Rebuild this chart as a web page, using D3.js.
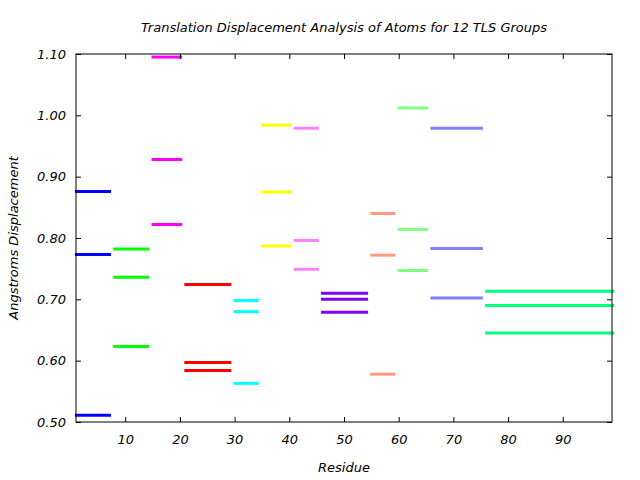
<!DOCTYPE html>
<html>
<head>
<meta charset="utf-8">
<script src="https://cdn.jsdelivr.net/npm/d3@7"></script>
<style>
  body { margin: 0; background: #fff; }
  text { font-family: "DejaVu Sans", sans-serif; font-style: italic; fill: #000; }
</style>
</head>
<body>
<svg width="640" height="480"></svg>
<script>
// residue range of each TLS group
const groupStart = [1, 8, 15, 21, 30, 35, 41, 46, 55, 60, 66, 76];
const groupEnd   = [7, 14, 20, 29, 34, 40, 45, 54, 59, 65, 75, 99];
const groupColors = ['#0000ff', '#00ff00', '#ff00ff', '#ff0000', '#00ffff', '#ffff00',
                     '#ff80ff', '#8000ff', '#ff9980', '#80ff80', '#8080ff', '#00ff80'];
// displacement values (3 per group)
const displacements = [
  [0.876, 0.773, 0.511],
  [0.782, 0.736, 0.623],
  [1.095, 0.928, 0.822],
  [0.724, 0.597, 0.584],
  [0.698, 0.680, 0.563],
  [0.984, 0.875, 0.787],
  [0.979, 0.796, 0.749],
  [0.710, 0.700, 0.679],
  [0.840, 0.772, 0.578],
  [1.012, 0.814, 0.747],
  [0.979, 0.783, 0.702],
  [0.713, 0.690, 0.645]
];
const xTicks = [10, 20, 30, 40, 50, 60, 70, 80, 90];
const yTicks = [0.5, 0.6, 0.7, 0.8, 0.9, 1.0, 1.1];

const svg = d3.select('svg');
const width = +svg.attr('width');
const height = +svg.attr('height');
const margin = { top: 54, right: 28, bottom: 58, left: 76 };
const innerWidth = width - margin.left - margin.right;
const innerHeight = height - margin.top - margin.bottom;

const xScale = d3.scaleLinear().domain([1, 99]).range([0, innerWidth]);
const yScale = d3.scaleLinear().domain([0.5, 1.1]).range([innerHeight, 0]);

const g = svg.append('g')
  .attr('transform', `translate(${margin.left},${margin.top})`);

// segments: one line per value, spanning the group's residues
const segs = [];
displacements.forEach((vals, i) => {
  vals.forEach(v => segs.push({ i, v }));
});

g.selectAll('line.seg').data(segs)
  .enter().append('line')
    .attr('class', 'seg')
    .attr('x1', d => xScale(groupStart[d.i] - 0.2))
    .attr('x2', d => xScale(groupEnd[d.i] + 0.4))
    .attr('y1', d => yScale(d.v))
    .attr('y2', d => yScale(d.v))
    .attr('stroke', d => groupColors[d.i])
    .attr('stroke-width', 3);

// axes, ticks pointing inwards, mirrored on top/right
const styleAxis = sel => {
  sel.selectAll('.domain').remove();
  sel.selectAll('.tick line').attr('stroke', '#000').attr('stroke-width', 1);
};

const xAxisG = g.append('g')
  .attr('transform', `translate(0,${innerHeight})`)
  .call(d3.axisBottom(xScale).tickValues(xTicks).tickSize(-5).tickPadding(13))
  .call(styleAxis);
xAxisG.selectAll('text').attr('font-size', 13).attr('fill', '#000');

g.append('g')
  .call(d3.axisTop(xScale).tickValues(xTicks).tickSize(-5))
  .call(styleAxis)
  .selectAll('.tick text').remove();

const yAxisG = g.append('g')
  .call(d3.axisLeft(yScale).tickValues(yTicks).tickSize(-5).tickPadding(10).tickFormat(d3.format('.2f')))
  .call(styleAxis);
yAxisG.selectAll('text').attr('font-size', 13).attr('fill', '#000');

g.append('g')
  .attr('transform', `translate(${innerWidth},0)`)
  .call(d3.axisRight(yScale).tickValues(yTicks).tickSize(-5))
  .call(styleAxis)
  .selectAll('.tick text').remove();

g.append('rect')
  .attr('width', innerWidth)
  .attr('height', innerHeight)
  .attr('fill', 'none')
  .attr('stroke', '#000')
  .attr('stroke-width', 1);

// labels
svg.append('text')
  .attr('x', margin.left + innerWidth / 2)
  .attr('y', 32)
  .attr('text-anchor', 'middle')
  .attr('font-size', 13)
  .text('Translation Displacement Analysis of Atoms for 12 TLS Groups');

svg.append('text')
  .attr('x', margin.left + innerWidth / 2)
  .attr('y', 472)
  .attr('text-anchor', 'middle')
  .attr('font-size', 13)
  .text('Residue');

svg.append('text')
  .attr('transform', `translate(18,${margin.top + innerHeight / 2}) rotate(-90)`)
  .attr('text-anchor', 'middle')
  .attr('font-size', 13)
  .text('Angstroms Displacement');
</script>
</body>
</html>
